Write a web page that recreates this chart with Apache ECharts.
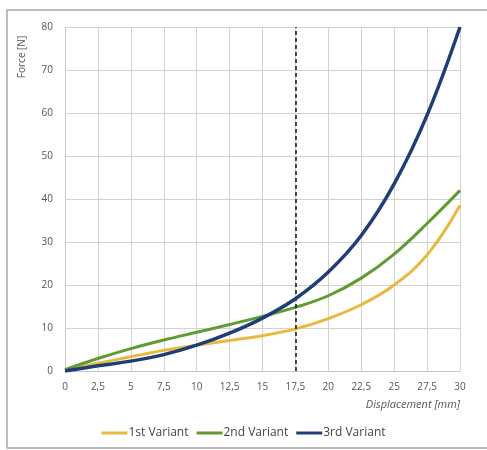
<!DOCTYPE html>
<html><head><meta charset="utf-8">
<script src="https://cdn.jsdelivr.net/npm/echarts@6/dist/echarts.min.js"></script>
<style>html,body{margin:0;padding:0;background:#fff}#c{width:487px;height:450px}</style>
</head><body><div id="c"></div>
<script>
const displacement = [0, 2.5, 5, 7.5, 10, 12.5, 15, 17.5, 20, 22.5, 25, 27.5, 30];
const variant1 = [0, 1.8, 3.3, 4.8, 6.0, 7.1, 8.2, 9.8, 12.2, 15.4, 20, 27, 38.5];
const variant2 = [0.3, 2.9, 5.2, 7.2, 9.0, 10.8, 12.7, 14.8, 17.5, 21.6, 27.2, 34.3, 42];
const variant3 = [0, 1.2, 2.3, 3.8, 6.0, 8.8, 12.3, 16.8, 23, 31.5, 43.5, 59.5, 80];
const seriesNames = ['1st Variant', '2nd Variant', '3rd Variant'];
const seriesColors = ['#E9B83C', '#5E9B32', '#1F3E78'];
const markerX = 17.5;

const pair = arr => displacement.map((x, i) => [x, arr[i]]);
const chart = echarts.init(document.getElementById('c'));
const font = '"Open Sans", sans-serif';
chart.setOption({
  animation: false,
  graphic: [
    {type: 'rect', shape: {x: 7, y: 10, width: 520, height: 438}, style: {fill: 'none', stroke: '#a8a8a8', lineWidth: 1.5}, z: -1},
    {type: 'text', x: 22, y: 57, rotation: Math.PI / 2, style: {text: 'Force [N]', fill: '#555', font: '10px ' + font, align: 'center', verticalAlign: 'middle'}}
  ],
  grid: {left: 65, right: 27, top: 27, bottom: 79},
  xAxis: {
    type: 'value', min: 0, max: 30, interval: 2.5,
    name: 'Displacement [mm]', nameLocation: 'end', nameGap: 0,
    nameTextStyle: {fontStyle: 'italic', color: '#555', fontSize: 11, fontFamily: font, align: 'right', verticalAlign: 'top', padding: [28, 0, 0, 0]},
    axisLine: {lineStyle: {color: '#c8c8c8'}}, axisTick: {show: false},
    axisLabel: {color: '#555', fontSize: 10, fontFamily: font, margin: 11, formatter: v => String(v).replace('.', ',')},
    splitLine: {lineStyle: {color: '#d2d2d2'}}
  },
  yAxis: {
    type: 'value', min: 0, max: 80, interval: 10,
    axisLine: {show: true, lineStyle: {color: '#c8c8c8'}}, axisTick: {show: false},
    axisLabel: {color: '#555', fontSize: 10, fontFamily: font, margin: 12},
    splitLine: {lineStyle: {color: '#d2d2d2'}}
  },
  legend: {
    bottom: 6, left: 'center', itemWidth: 26, itemHeight: 3, itemGap: 8, icon: 'rect',
    textStyle: {color: '#444', fontSize: 12, fontFamily: font, padding: [0, 0, 0, -4]},
    data: seriesNames
  },
  series: [variant1, variant2, variant3].map((d, i) => ({
    name: seriesNames[i], type: 'line', data: pair(d), smooth: 0.4, showSymbol: false,
    lineStyle: {width: i === 2 ? 3.5 : 3, color: seriesColors[i]}, itemStyle: {color: seriesColors[i]},
    z: 3 + i,
    markLine: i === 0 ? {silent: true, symbol: 'none', label: {show: false},
      lineStyle: {color: '#111', type: [4, 3], width: 1.5}, data: [{xAxis: markerX}]} : undefined
  }))
});
</script></body></html>
